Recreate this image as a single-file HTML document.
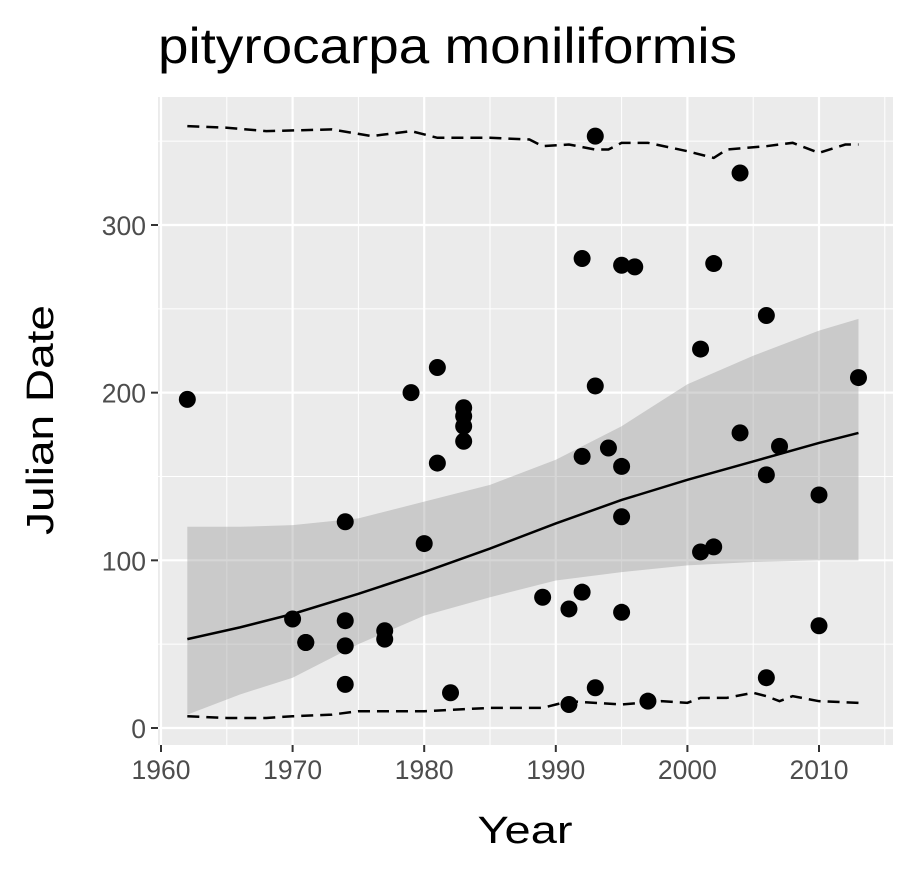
<!DOCTYPE html>
<html><head><meta charset="utf-8"><style>
body{margin:0;background:#fff}
svg text{font-family:"Liberation Sans",Arial,sans-serif}
</style></head><body>
<svg id="c" width="915" height="877" xmlns="http://www.w3.org/2000/svg">
<text x="158" y="63" font-size="50" textLength="579" lengthAdjust="spacingAndGlyphs" fill="#000">pityrocarpa moniliformis</text>
<rect x="158" y="97" width="735" height="648" fill="#ebebeb"/>
<g id="grid"></g><g id="ribbon"></g><g id="lines"></g><g id="pts"></g><g id="axes"></g>
<text x="525" y="843" font-size="38" textLength="95" lengthAdjust="spacingAndGlyphs" text-anchor="middle">Year</text>
<text transform="translate(53,420) rotate(-90)" font-size="38" textLength="230" lengthAdjust="spacingAndGlyphs" text-anchor="middle">Julian Date</text>
</svg>
<script>
const ptYears=[1962,1970,1971,1971,1974,1974,1974,1974,1977,1977,1979,1980,1981,1981,1982,1983,1983,1983,1983,1989,1991,1991,1992,1992,1992,1993,1993,1993,1994,1995,1995,1995,1995,1996,1997,2001,2001,2002,2002,2004,2004,2006,2006,2006,2007,2010,2010,2013];
const ptDates=[196,65,51,51,123,64,49,26,58,53,200,110,215,158,21,191,186,180,171,78,71,14,280,162,81,353,204,24,167,276,156,126,69,275,16,226,105,277,108,331,176,246,151,30,168,139,61,209];
const fitYears=[1962,1966,1970,1975,1980,1985,1990,1995,2000,2005,2010,2013];
const fitVals=[53,60,68,80,93,107,122,136,148,159,170,176];
const ribUpper=[120,120,121,125,135,145,160,180,205,222,237,244];
const ribLower=[8,20,30,50,67,78,88,93,97,99,100,100];
const upYears=[1962,1965,1968,1973,1976,1979,1981,1985,1988,1989,1991,1993,1994,1995,1997,2000,2002,2003,2006,2008,2010,2012,2013];
const upVals=[359,358,356,357,353,356,352,352,351,347,348,345,345,349,349,344,340,345,347,349,343,348,348];
const loYears=[1962,1965,1968,1970,1973,1975,1980,1985,1989,1991,1995,1998,2000,2001,2003,2005,2006,2007,2008,2010,2013];
const loVals=[7,6,6,7,8,10,10,12,12,16,14,16,15,18,18,21,19,16,19,16,15];
const xTicks=[1960,1970,1980,1990,2000,2010];
const yTicks=[0,100,200,300];
const NS="http://www.w3.org/2000/svg";
const X=v=>161+(v-1960)*13.16;
const Y=v=>728-v*1.6767;
function mk(t,a,p){const e=document.createElementNS(NS,t);for(const k in a)e.setAttribute(k,a[k]);document.getElementById(p).appendChild(e);return e;}
const L=158,R=893,T=97,B=745;
for(let v=1965;v<=2015;v+=10){if(X(v)<R){const e=mk('line',{x1:X(v),x2:X(v),y1:T,y2:B,stroke:'#fff','stroke-width':1},'grid');

}}
for(let v=50;v<=350;v+=100){const e=mk('line',{x1:L,x2:R,y1:Y(v),y2:Y(v),stroke:'#fff','stroke-width':1},'grid');

}
xTicks.forEach(v=>{const e=mk('line',{x1:X(v),x2:X(v),y1:T,y2:B,stroke:'#fff','stroke-width':2.2},'grid');


const t=mk('line',{x1:X(v),x2:X(v),y1:B,y2:B+7,stroke:'#333','stroke-width':2},'axes');


const l=mk('text',{x:X(v),y:B+34,'font-size':26.5,fill:'#4d4d4d','text-anchor':'middle'},'axes');l.textContent=v;

});
yTicks.forEach(v=>{const e=mk('line',{x1:L,x2:R,y1:Y(v),y2:Y(v),stroke:'#fff','stroke-width':2.2},'grid');


const t=mk('line',{x1:L-7,x2:L,y1:Y(v),y2:Y(v),stroke:'#333','stroke-width':2},'axes');


const l=mk('text',{x:L-12,y:Y(v)+10,'font-size':26.5,fill:'#4d4d4d','text-anchor':'end'},'axes');l.textContent=v;

});
let d=fitYears.map((y,i)=>(i?'L':'M')+X(y)+','+Y(ribUpper[i])).join('');
for(let i=fitYears.length-1;i>=0;i--)d+='L'+X(fitYears[i])+','+Y(ribLower[i]);
const rb=mk('path',{d:d+'Z',fill:'#999','fill-opacity':0.4},'ribbon');


function line(xs,ys,extra,name){const p=mk('path',Object.assign({d:xs.map((x,i)=>(i?'L':'M')+X(x)+','+Y(ys[i])).join(''),fill:'none',stroke:'#000','stroke-width':2.5},extra),'lines');

}
line(fitYears,fitVals,{},'trend-line');
line(upYears,upVals,{'stroke-dasharray':'12,7'},'upper-quantile-line');
line(loYears,loVals,{'stroke-dasharray':'12,7'},'lower-quantile-line');
ptYears.forEach((y,i)=>{const c=mk('circle',{cx:X(y),cy:Y(ptDates[i]),r:8.5,fill:'#000'},'pts');

});
</script>
</body></html>
